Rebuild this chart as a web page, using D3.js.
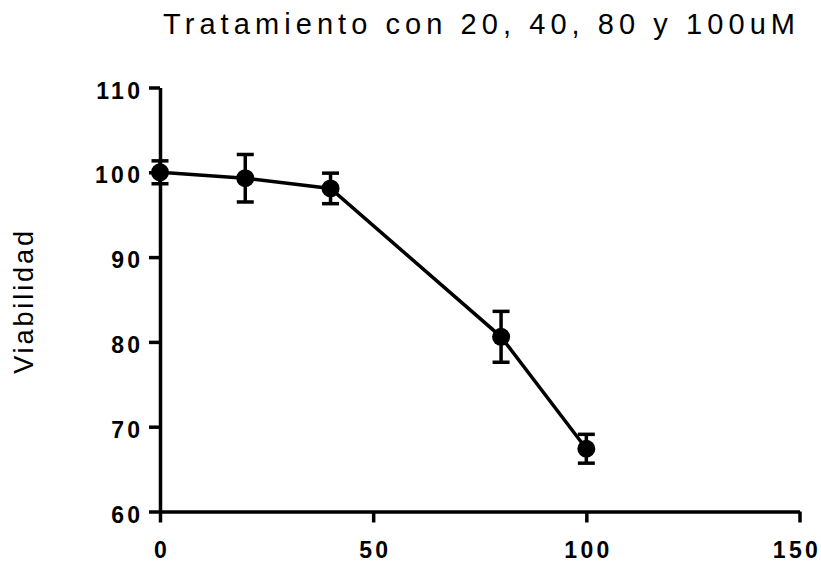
<!DOCTYPE html>
<html>
<head>
<meta charset="utf-8">
<script src="https://cdn.jsdelivr.net/npm/d3@7"></script>
<style>
  body { margin: 0; background: #fff; }
  svg { display: block; font-family: "Liberation Sans", Arial, sans-serif; }
</style>
</head>
<body>
<svg id="chart" width="821" height="562"></svg>
<script>
// data
const doses = [0, 20, 40, 80, 100]
const viability = [100.0, 99.3, 98.1, 80.6, 67.4]
const errors = [1.35, 2.8, 1.8, 3.0, 1.7]
const xTicks = [0, 50, 100, 150]
const yTicks = [60, 70, 80, 90, 100, 110]
const title = "Tratamiento con 20, 40, 80 y 100uM"
const yLabel = "Viabilidad"

const svg = d3.select("#chart")
const plotLeft = 160, plotRight = 799.5, plotTop = 87.5, plotBottom = 511.5

const x = d3.scaleLinear().domain([0, 150]).range([plotLeft, plotRight])
const y = d3.scaleLinear().domain([60, 110]).range([plotBottom, plotTop])

const points = doses.map((d, i) => ({ x: d, y: viability[i], e: errors[i] }))

// axes
const yAxis = svg.append("g")
  .attr("transform", `translate(${plotLeft},0)`)
  .call(d3.axisLeft(y).tickValues(yTicks).tickSize(11).tickSizeOuter(0).tickPadding(9))
const xAxis = svg.append("g")
  .attr("transform", `translate(0,${plotBottom})`)
  .call(d3.axisBottom(x).tickValues(xTicks).tickSize(11).tickSizeOuter(0).tickPadding(19))

for (const ax of [xAxis, yAxis]) {
  ax.selectAll("path, line").attr("stroke", "#000").attr("stroke-width", 3.5)
  ax.selectAll("text")
    .attr("fill", "#000")
    .style("font-size", "23px")
    .style("font-weight", "bold")
    .style("letter-spacing", "3.3px")
}
yAxis.selectAll("text").attr("dx", 3.3).attr("dy", "10.5px")
// last label pulled in a little so it stays inside the page
xAxis.selectAll("text").attr("dx", (d, i, n) => i === n.length - 1 ? -3 : 1.6)

// line
svg.append("path")
  .datum(points)
  .attr("d", d3.line().x(d => x(d.x)).y(d => y(d.y)))
  .attr("fill", "none")
  .attr("stroke", "#000")
  .attr("stroke-width", 3.5)

// error bars
const bars = svg.append("g").selectAll("g").data(points).join("g")
bars.append("line")
  .attr("x1", d => x(d.x)).attr("x2", d => x(d.x))
  .attr("y1", d => y(d.y + d.e)).attr("y2", d => y(d.y - d.e))
  .attr("stroke", "#000").attr("stroke-width", 3.5)
for (const s of [1, -1]) {
  bars.append("line")
    .attr("x1", d => x(d.x) - 8.5).attr("x2", d => x(d.x) + 8.5)
    .attr("y1", d => y(d.y + s * d.e)).attr("y2", d => y(d.y + s * d.e))
    .attr("stroke", "#000").attr("stroke-width", 3.5)
}

// markers
svg.append("g").selectAll("circle").data(points).join("circle")
  .attr("cx", d => x(d.x))
  .attr("cy", d => y(d.y))
  .attr("r", 9)
  .attr("fill", "#000")

// title
svg.append("text")
  .attr("x", 163)
  .attr("y", 34)
  .attr("textLength", 632)
  .attr("lengthAdjust", "spacing")
  .style("font-size", "29px")
  .text(title)

// y label
svg.append("text")
  .attr("transform", `translate(33,301) rotate(-90)`)
  .attr("text-anchor", "middle")
  .style("font-size", "27px")
  .style("letter-spacing", "2.9px")
  .text(yLabel)
</script>
</body>
</html>
